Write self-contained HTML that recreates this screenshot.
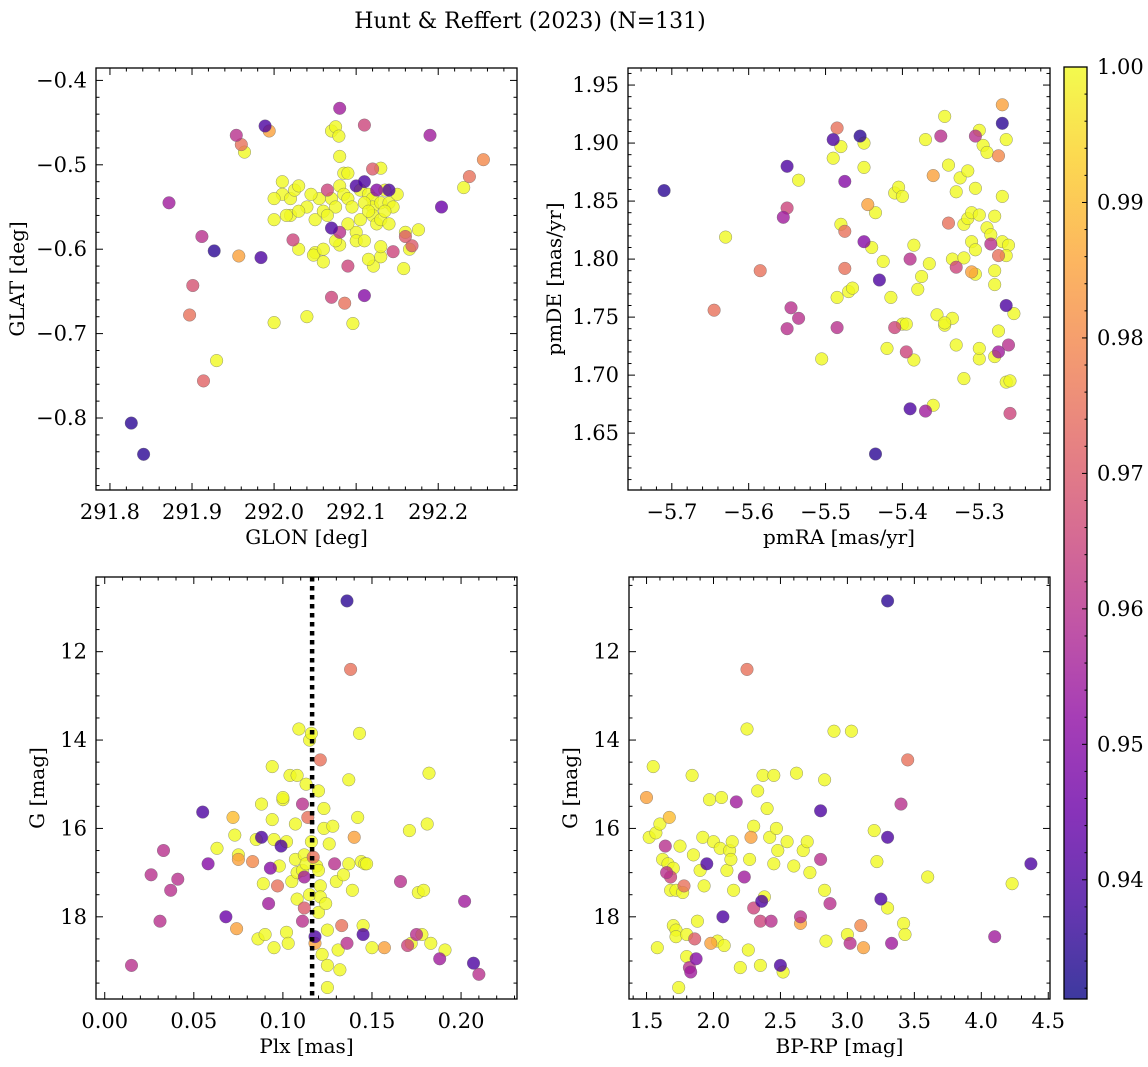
<!DOCTYPE html>
<html><head><meta charset="utf-8"><style>
html,body{margin:0;padding:0;background:#fff;}
svg{display:block;font-family:"DejaVu Serif","Liberation Serif",serif;}
</style></head><body>
<svg id="fig" width="1148" height="1067" xmlns="http://www.w3.org/2000/svg">
<defs>
<linearGradient id="plasma" x1="0" y1="1" x2="0" y2="0">
<stop offset="0" stop-color="#0d0887"/><stop offset="0.1" stop-color="#41049d"/><stop offset="0.2" stop-color="#6a00a8"/><stop offset="0.3" stop-color="#8f0da4"/><stop offset="0.4" stop-color="#b12a90"/><stop offset="0.5" stop-color="#cc4778"/><stop offset="0.6" stop-color="#e16462"/><stop offset="0.7" stop-color="#f2844b"/><stop offset="0.8" stop-color="#fca636"/><stop offset="0.9" stop-color="#fcce25"/><stop offset="1" stop-color="#f0f921"/>
</linearGradient>
</defs>
<text x="530" y="28" font-size="22" text-anchor="middle">Hunt &amp; Reffert (2023) (N=131)</text>
</svg>
<script>
// ---- data: [x, y, probability] ----
const posPoints = [
[291.826,-0.806,0.935],[291.841,-0.843,0.935],[291.872,-0.545,0.955],[291.912,-0.585,0.96],[291.914,-0.756,0.972],[291.897,-0.678,0.975],[291.901,-0.643,0.968],[291.927,-0.602,0.935],[291.93,-0.732,1],[291.954,-0.465,0.96],[291.96,-0.476,0.975],[291.964,-0.485,1],[291.957,-0.608,0.985],[291.984,-0.61,0.94],[291.989,-0.454,0.94],[291.994,-0.46,0.985],[292.0,-0.687,1],[292.02,-0.56,1],[292.023,-0.589,0.965],[292.04,-0.68,1],[292.07,-0.657,0.965],[292.086,-0.664,0.975],[292.096,-0.688,1],[292.11,-0.655,0.95],[292.08,-0.433,0.955],[292.11,-0.453,0.965],[292.07,-0.46,1],[292.075,-0.455,1],[292.079,-0.466,1],[292.08,-0.49,1],[292.19,-0.465,0.955],[292.238,-0.514,0.975],[292.255,-0.494,0.98],[292.231,-0.527,1],[292.204,-0.55,0.945],[292.176,-0.577,1],[292.158,-0.623,1],[292.12,-0.505,0.97],[292.13,-0.504,1],[292.09,-0.62,0.965],[292.121,-0.62,1],[292.115,-0.612,1],[292.165,-0.6,1],[292.168,-0.596,0.97],[292.145,-0.603,0.965],[292.16,-0.585,0.97],[292.16,-0.58,1],[292.13,-0.609,1],[292.13,-0.597,1],[292.05,-0.604,1],[292.048,-0.607,1],[292.06,-0.615,1],
[292.01,-0.52,1],[292.01,-0.535,1],[292.0,-0.54,1],[292.02,-0.54,1],[292.025,-0.53,1],[292.03,-0.525,1],[292.04,-0.55,1],[292.03,-0.555,1],[292.05,-0.565,1],[292.06,-0.555,1],[292.065,-0.53,0.965],[292.07,-0.54,1],[292.075,-0.55,1],[292.08,-0.525,1],[292.07,-0.575,0.94],[292.08,-0.58,0.96],[292.085,-0.535,1],[292.09,-0.54,1],[292.095,-0.55,1],[292.1,-0.525,0.94],[292.105,-0.53,1],[292.1,-0.58,1],[292.11,-0.52,0.94],[292.115,-0.535,1],[292.12,-0.54,1],[292.12,-0.55,1],[292.12,-0.56,1],[292.125,-0.53,0.95],[292.13,-0.545,1],[292.135,-0.53,1],[292.14,-0.53,0.94],[292.14,-0.545,1],[292.145,-0.55,1],[292.15,-0.535,1],[292.11,-0.545,1],[292.125,-0.57,1],[292.085,-0.51,1],[292.09,-0.51,1],[292.055,-0.54,1],[292.045,-0.535,1],[292.08,-0.595,1],[292.1,-0.59,1],[292.065,-0.56,1],[292.09,-0.57,1],[292.105,-0.565,1],[292.11,-0.59,1],[292.13,-0.565,1],[292.015,-0.56,1],[292.03,-0.6,1],[292.0,-0.565,1],[292.115,-0.555,1],[292.135,-0.555,1],[292.06,-0.6,1],[292.075,-0.59,1],[292.14,-0.57,1]
];
const pmPoints = [
[-5.71,1.859,0.935],[-5.63,1.819,1],[-5.645,1.756,0.975],[-5.585,1.79,0.975],[-5.55,1.88,0.94],[-5.555,1.836,0.955],[-5.55,1.844,0.965],[-5.545,1.758,0.96],[-5.55,1.74,0.96],[-5.535,1.868,1],[-5.535,1.749,0.96],[-5.505,1.714,1],[-5.49,1.903,0.94],[-5.49,1.887,1],[-5.485,1.913,0.975],[-5.48,1.897,1],[-5.475,1.867,0.95],[-5.48,1.83,1],[-5.475,1.824,0.975],[-5.485,1.767,1],[-5.485,1.741,0.96],[-5.475,1.792,0.975],[-5.47,1.772,1],[-5.465,1.775,1],[-5.455,1.906,0.935],[-5.45,1.9,1],[-5.45,1.879,1],[-5.445,1.847,0.985],[-5.45,1.815,0.95],[-5.44,1.81,1],[-5.435,1.84,1],[-5.425,1.798,1],[-5.43,1.782,0.94],[-5.42,1.723,1],[-5.41,1.741,0.965],[-5.415,1.767,1],[-5.41,1.857,1],[-5.405,1.862,1],[-5.4,1.854,1],[-5.395,1.72,0.965],[-5.4,1.744,1],[-5.395,1.744,1],[-5.435,1.632,0.935],[-5.385,1.812,1],[-5.39,1.8,0.96],[-5.38,1.774,1],[-5.385,1.713,1],[-5.375,1.785,1],[-5.37,1.903,1],[-5.365,1.796,1],[-5.36,1.674,1],[-5.355,1.752,1],[-5.35,1.906,0.96],[-5.345,1.923,1],[-5.34,1.831,0.975],[-5.335,1.8,1],[-5.33,1.793,0.965],[-5.39,1.671,0.94],[-5.325,1.87,1],[-5.33,1.858,1],[-5.32,1.83,1],[-5.315,1.835,1],[-5.31,1.84,1],[-5.305,1.787,1],[-5.31,1.789,0.985],[-5.3,1.714,1],[-5.3,1.911,1],[-5.36,1.872,0.985],[-5.295,1.898,1],[-5.29,1.892,1],[-5.29,1.827,1],[-5.285,1.821,1],[-5.28,1.778,1],[-5.275,1.738,1],[-5.37,1.669,0.955],[-5.27,1.815,1],[-5.265,1.903,1],[-5.34,1.881,1],[-5.3,1.838,1],[-5.32,1.801,1],[-5.345,1.743,1],[-5.265,1.694,1],[-5.33,1.726,1],[-5.31,1.815,1],[-5.305,1.808,1],[-5.335,1.749,1],[-5.32,1.697,1],[-5.315,1.876,1],[-5.305,1.861,1],[-5.3,1.723,1],[-5.305,1.906,0.96],[-5.28,1.837,1],[-5.285,1.813,0.96],[-5.28,1.79,1],[-5.275,1.803,0.975],[-5.345,1.745,1],[-5.28,1.716,1],[-5.275,1.72,0.955],[-5.275,1.889,0.98],[-5.27,1.854,1],[-5.27,1.933,0.985],[-5.27,1.917,0.935],[-5.265,1.76,0.94],[-5.262,1.726,0.96],[-5.26,1.695,1],[-5.262,1.812,1],[-5.265,1.803,1],[-5.26,1.667,0.965],[-5.255,1.753,1]
];
const plxPoints = [
[0.015,19.1,0.96],[0.026,17.05,0.96],[0.031,18.1,0.96],[0.033,16.5,0.96],[0.037,17.4,0.96],[0.041,17.15,0.96],[0.055,15.63,0.94],[0.058,16.8,0.95],[0.063,16.45,1],[0.068,18.0,0.945],[0.072,15.75,0.99],[0.073,16.15,1],[0.075,16.7,0.985],[0.074,18.27,0.985],[0.075,16.6,1],[0.083,16.75,0.98],[0.085,16.25,1],[0.086,18.5,1],[0.088,15.45,1],[0.088,16.2,0.94],[0.089,17.25,1],[0.09,18.4,1],[0.092,17.7,0.955],[0.093,16.9,0.95],[0.094,14.6,1],[0.094,15.8,1],[0.095,18.7,1],[0.095,16.25,1],[0.097,17.3,0.975],[0.098,16.85,1],[0.099,16.4,0.94],[0.1,15.35,1],[0.1,15.3,1],[0.102,16.3,1],[0.102,18.35,1],[0.103,18.6,1],[0.104,14.8,1],[0.105,17.2,1],[0.107,15.9,1],[0.107,16.7,1],[0.108,17.0,1],[0.108,17.6,1],[0.108,14.8,1],[0.109,13.75,1],[0.111,15.45,0.96],[0.111,16.95,1],[0.111,18.1,0.96],[0.112,17.1,0.955],[0.112,16.6,1],[0.112,17.8,0.97],[0.113,15.0,1],[0.113,16.8,1],[0.114,15.75,0.975],[0.115,14.0,1],[0.115,17.5,1],[0.116,16.3,1],[0.116,13.85,1],[0.117,16.65,0.975],[0.118,18.6,0.985],[0.118,18.45,0.94],[0.119,16.85,1],[0.12,15.15,1],[0.12,17.9,1],[0.12,16.95,1],[0.121,14.45,0.975],[0.121,17.3,1],[0.121,17.55,1],[0.122,18.85,1],[0.123,15.55,1],[0.123,16.0,1],[0.124,17.7,1],[0.125,19.1,1],[0.125,18.3,1],[0.125,19.6,1],[0.126,16.35,1],[0.128,15.95,1],[0.129,16.8,0.96],[0.13,17.2,1],[0.131,18.75,1],[0.132,19.2,1],[0.133,18.2,0.975],[0.134,17.05,1],[0.136,10.85,0.935],[0.136,18.6,0.96],[0.137,16.8,1],[0.137,14.9,1],[0.138,12.4,0.975],[0.139,17.4,1],[0.14,16.2,0.985],[0.142,15.75,1],[0.143,13.85,1],[0.144,16.75,1],[0.145,18.4,0.94],[0.145,18.2,1],[0.146,16.8,1],[0.147,16.8,1],[0.15,18.7,1],[0.157,18.7,0.985],[0.166,17.2,0.96],[0.17,18.65,0.965],[0.171,16.05,1],[0.172,18.6,1],[0.175,18.4,0.96],[0.176,17.45,1],[0.178,18.4,1],[0.179,17.4,1],[0.181,15.9,1],[0.182,14.75,1],[0.183,18.6,1],[0.188,18.95,0.955],[0.191,18.75,1],[0.202,17.65,0.955],[0.207,19.05,0.94],[0.21,19.3,0.96]
];
const cmdPoints = [
[1.5,15.3,0.985],[1.52,16.2,1],[1.55,14.6,1],[1.57,16.1,1],[1.58,18.7,1],[1.6,15.9,1],[1.62,16.7,1],[1.64,16.4,0.96],[1.65,17.0,0.96],[1.66,16.8,1],[1.67,15.75,0.99],[1.68,17.1,0.965],[1.68,17.4,1],[1.7,16.9,1],[1.7,18.2,1],[1.72,17.4,1],[1.72,18.3,1],[1.72,18.45,1],[1.74,19.6,1],[1.75,16.4,1],[1.77,17.45,1],[1.78,17.3,0.975],[1.8,18.4,1],[1.8,18.9,1],[1.82,19.15,0.96],[1.83,19.25,0.955],[1.84,14.8,1],[1.85,16.6,1],[1.86,18.5,0.97],[1.87,18.95,0.95],[1.88,18.1,1],[1.9,16.95,1],[1.92,16.2,1],[1.93,17.3,1],[1.95,16.8,0.94],[1.97,15.35,1],[1.98,18.6,0.985],[2.0,16.3,1],[2.03,18.55,1],[2.05,16.45,1],[2.06,15.3,1],[2.07,18.0,0.94],[2.08,18.65,1],[2.1,16.95,1],[2.12,16.5,1],[2.13,16.7,1],[2.14,16.3,1],[2.15,17.4,1],[2.17,15.4,0.955],[2.2,19.15,1],[2.23,17.1,0.955],[2.25,12.4,0.975],[2.25,13.75,1],[2.26,18.75,1],[2.27,16.7,1],[2.28,16.2,0.985],[2.3,17.8,0.965],[2.3,15.95,1],[2.33,15.15,1],[2.35,19.1,1],[2.35,18.1,0.965],[2.36,17.65,0.94],[2.37,14.8,1],[2.38,17.55,1],[2.4,15.55,1],[2.42,16.2,1],[2.43,18.1,0.96],[2.45,14.8,1],[2.45,16.8,1],[2.47,16.0,1],[2.48,16.5,1],[2.5,19.1,0.94],[2.52,19.25,1],[2.55,16.3,1],[2.6,16.85,1],[2.62,14.75,1],[2.65,18.0,0.96],[2.65,18.15,0.985],[2.67,16.5,1],[2.7,16.3,1],[2.72,17.0,1],[2.8,16.7,0.96],[2.8,15.6,0.94],[2.83,14.9,1],[2.83,17.4,1],[2.84,18.55,1],[2.87,17.7,0.96],[2.9,13.8,1],[3.0,18.4,1],[3.02,18.6,0.96],[3.03,13.8,1],[3.1,18.2,0.98],[3.12,18.7,0.985],[3.2,16.05,1],[3.22,16.75,1],[3.25,17.6,0.94],[3.3,10.85,0.935],[3.3,16.2,0.94],[3.3,17.8,1],[3.33,18.6,0.955],[3.4,15.45,0.96],[3.42,18.15,1],[3.43,18.4,1],[3.45,14.45,0.975],[3.6,17.1,1],[4.1,18.45,0.955],[4.23,17.25,1],[4.37,16.8,0.94]
];
const plxCut = 0.1164;
const glonTicks = [291.8,291.9,292.0,292.1,292.2];
const glatTicks = [-0.4,-0.5,-0.6,-0.7,-0.8];
const pmraTicks = [-5.7,-5.6,-5.5,-5.4,-5.3];
const pmdeTicks = [1.65,1.70,1.75,1.80,1.85,1.90,1.95];
const plxTicks = [0.00,0.05,0.10,0.15,0.20];
const gTicks = [12,14,16,18];
const bprpTicks = [1.5,2.0,2.5,3.0,3.5,4.0,4.5];
const cbTicks = [0.94,0.95,0.96,0.97,0.98,0.99,1.00];

const NS = "http://www.w3.org/2000/svg";
const svg = document.getElementById('fig');
function mk(tag, attrs, parent){const e=document.createElementNS(NS,tag);for(const k in attrs)e.setAttribute(k,attrs[k]);(parent||svg).appendChild(e);return e;}
const stops=[[0,[13,8,135]],[0.1,[65,4,157]],[0.2,[106,0,168]],[0.3,[143,13,164]],[0.4,[177,42,144]],[0.5,[204,71,120]],[0.6,[225,100,98]],[0.7,[242,132,75]],[0.8,[252,166,54]],[0.9,[252,206,37]],[1,[240,249,33]]];
const PMIN=0.9312, PMAX=1.0;
function plasma(p){let t=Math.max(0,Math.min(1,(p-PMIN)/(PMAX-PMIN)));for(let i=1;i<stops.length;i++){if(t<=stops[i][0]){const a=stops[i-1],b=stops[i];const f=(t-a[0])/(b[0]-a[0]);const c=a[1].map((v,j)=>Math.round(v+(b[1][j]-v)*f));return `rgb(${c[0]},${c[1]},${c[2]})`;}}return 'rgb(240,249,33)';}
function fmt(v,d){const s=Math.abs(v).toFixed(d);return (v<-1e-9?'\u2212':'')+s;}

function panel(cfg){
  const g=mk('g',{});
  
  
  const {x0,x1,y0,y1,xmin,xmax,ymin,ymax,yinv}=cfg;
  const sx=v=>x0+(v-xmin)/(xmax-xmin)*(x1-x0);
  const sy=v=>yinv? y0+(v-ymin)/(ymax-ymin)*(y1-y0) : y1-(v-ymin)/(ymax-ymin)*(y1-y0);
  const pg=mk('g',{},g);
  
  
  const pts=[...cfg.points].sort((a,b)=>b[2]-a[2]);
  pts.forEach(p=>{
    const c=mk('circle',{cx:sx(p[0]).toFixed(1),cy:sy(p[1]).toFixed(1),r:6.3,fill:plasma(p[2]),'fill-opacity':0.8,stroke:'#666','stroke-opacity':0.7,'stroke-width':0.5},pg);
    
    
  });
  if(cfg.vline!==undefined){
    const l=mk('line',{x1:sx(cfg.vline),x2:sx(cfg.vline),y1:y0,y2:y1,stroke:'#000','stroke-width':4.5,'stroke-dasharray':'4.5,4.5'},g);
    
    
  }
  const fr=mk('rect',{x:x0,y:y0,width:x1-x0,height:y1-y0,fill:'none',stroke:'#000','stroke-width':1.3},g);
  
  
  const tk=mk('g',{stroke:'#000','stroke-width':1},g);
  
  
  const eps=1e-9;
  for(let v=Math.ceil(xmin/cfg.xminor-eps)*cfg.xminor; v<=xmax+eps; v+=cfg.xminor){
    const X=sx(v); const major=cfg.xticks.some(t=>Math.abs(t-v)<cfg.xminor/4); const L=major?7:3.5;
    mk('line',{x1:X,x2:X,y1:y1,y2:y1-L},tk); mk('line',{x1:X,x2:X,y1:y0,y2:y0+L},tk);
  }
  const ylo=Math.min(ymin,ymax), yhi=Math.max(ymin,ymax);
  for(let v=Math.ceil(ylo/cfg.yminor-eps)*cfg.yminor; v<=yhi+eps; v+=cfg.yminor){
    const Y=sy(v); const major=cfg.yticks.some(t=>Math.abs(t-v)<cfg.yminor/4); const L=major?7:3.5;
    mk('line',{x1:x0,x2:x0+L,y1:Y,y2:Y},tk); mk('line',{x1:x1,x2:x1-L,y1:Y,y2:Y},tk);
  }
  cfg.xticks.forEach(t=>{
    const e=mk('text',{x:sx(t),y:y1+29,'font-size':21,'text-anchor':'middle'},g);
    e.textContent=fmt(t,cfg.xdec);
    
    
  });
  cfg.yticks.forEach(t=>{
    const e=mk('text',{x:x0-9,y:sy(t)+7,'font-size':21,'text-anchor':'end'},g);
    e.textContent=fmt(t,cfg.ydec);
    
    
  });
  const xl=mk('text',{x:(x0+x1)/2,y:y1+54,'font-size':20,'text-anchor':'middle'},g);
  xl.textContent=cfg.xlabel;
  
  
  const yl=mk('text',{x:0,y:0,'font-size':20,'text-anchor':'middle',transform:`translate(${cfg.ylx},${(y0+y1)/2}) rotate(-90)`},g);
  yl.textContent=cfg.ylabel;
  
  
}

panel({name:'position-panel',points:posPoints,x0:96,x1:517,y0:68,y1:490,xmin:291.783,xmax:292.296,ymin:-0.8853,ymax:-0.3853,yinv:false,xticks:glonTicks,yticks:glatTicks,xminor:0.02,yminor:0.02,xdec:1,ydec:1,xlabel:'GLON [deg]',ylabel:'GLAT [deg]',ylx:24});
panel({name:'proper-motion-panel',points:pmPoints,x0:628,x1:1050,y0:68,y1:490,xmin:-5.757,xmax:-5.208,ymin:1.601,ymax:1.9647,yinv:false,xticks:pmraTicks,yticks:pmdeTicks,xminor:0.02,yminor:0.01,xdec:1,ydec:2,xlabel:'pmRA [mas/yr]',ylabel:'pmDE [mas/yr]',ylx:561});
panel({name:'parallax-magnitude-panel',points:plxPoints,x0:96,x1:517,y0:577,y1:999,xmin:-0.0049,xmax:0.2314,ymin:10.31,ymax:19.86,yinv:true,xticks:plxTicks,yticks:gTicks,xminor:0.01,yminor:0.5,xdec:2,ydec:0,xlabel:'Plx [mas]',ylabel:'G [mag]',ylx:44,vline:plxCut});
panel({name:'color-magnitude-panel',points:cmdPoints,x0:629,x1:1050,y0:577,y1:999,xmin:1.369,xmax:4.513,ymin:10.31,ymax:19.86,yinv:true,xticks:bprpTicks,yticks:gTicks,xminor:0.1,yminor:0.5,xdec:1,ydec:0,xlabel:'BP-RP [mag]',ylabel:'G [mag]',ylx:577});

(function(){
  const cx0=1064,cx1=1087,cy0=67,cy1=999;
  const cg=mk('g',{});
  
  
  const r=mk('rect',{x:cx0,y:cy0,width:cx1-cx0,height:cy1-cy0,fill:'url(#plasma)','fill-opacity':0.8},cg);
  
  
  mk('rect',{x:cx0,y:cy0,width:cx1-cx0,height:cy1-cy0,fill:'none',stroke:'#000','stroke-width':1.3},cg);
  const sy=v=>cy1-(v-PMIN)/(PMAX-PMIN)*(cy1-cy0);
  for(let i=Math.ceil(PMIN/0.002);i<=500;i++){
    const v=i*0.002; const Y=sy(v); const major=(i%5===0);
    mk('line',{x1:cx1,x2:cx1-(major?5:2.5),y1:Y,y2:Y,stroke:'#000','stroke-width':1},cg);
  }
  cbTicks.forEach(t=>{
    const e=mk('text',{x:cx1+10,y:sy(t)+7,'font-size':21},cg);
    e.textContent=t.toFixed(2);
    
    
  });
})();
</script>
</body></html>
